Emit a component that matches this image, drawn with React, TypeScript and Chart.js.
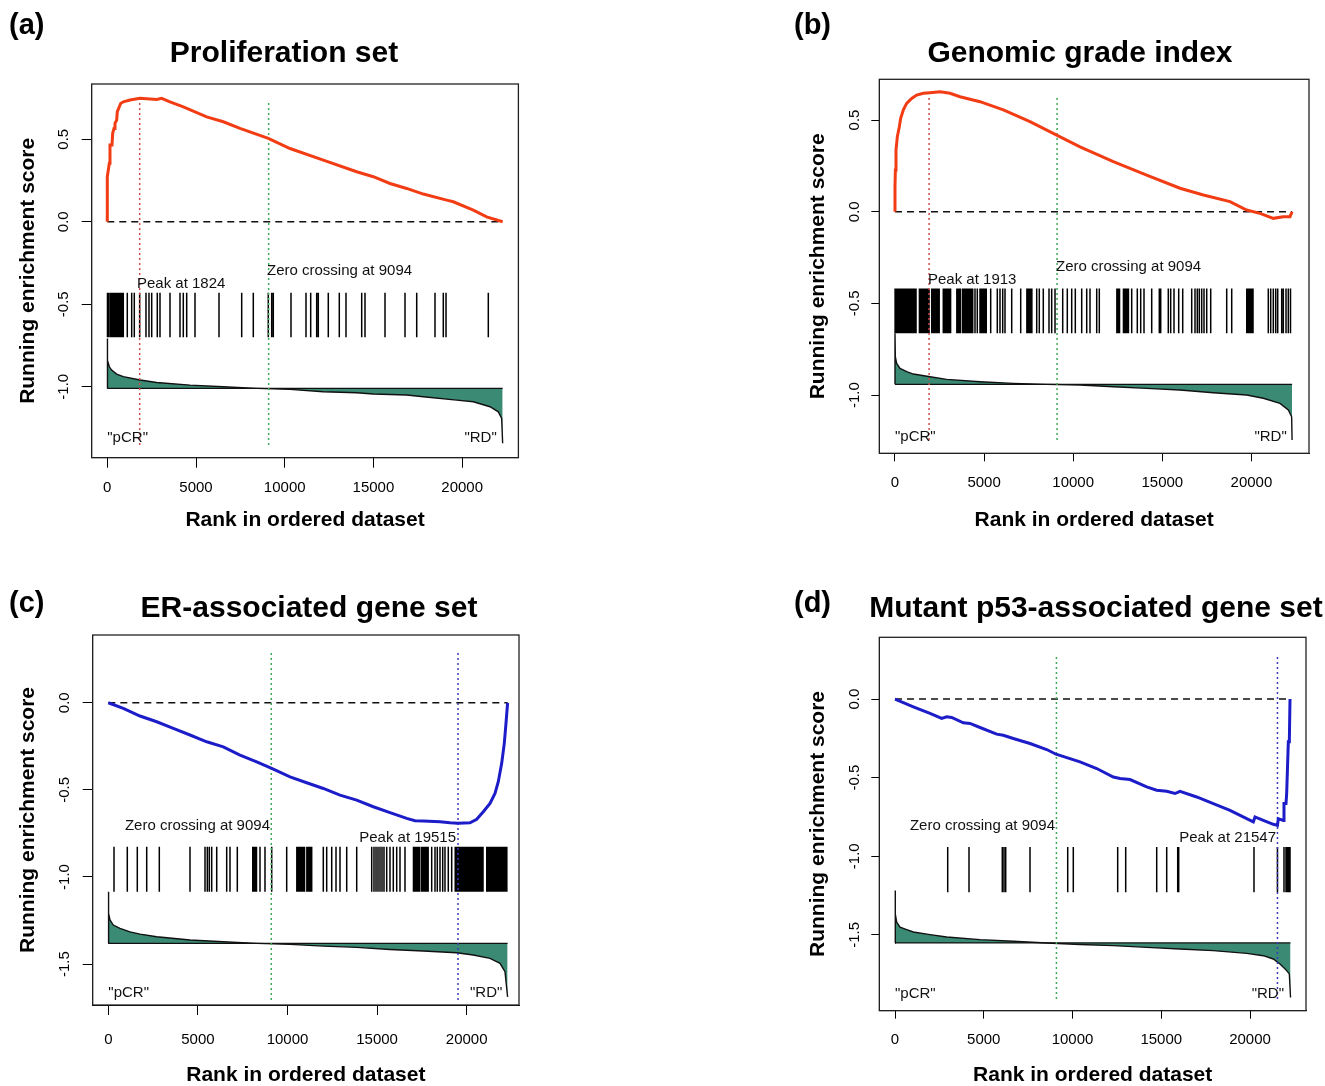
import React, { useEffect, useRef } from "react";
import { Chart, registerables } from "chart.js";

Chart.register(...registerables);

const FONT = "'Liberation Sans', Arial, Helvetica, sans-serif";
const N_GENES = 22283;
const ZERO_CROSS = 9094;
const X_TICKS = [0, 5000, 10000, 15000, 20000];
const X_TITLE = "Rank in ordered dataset";
const Y_TITLE = "Running enrichment score";

// ---------- (a) Proliferation set ----------
const A_TITLE = "Proliferation set";
const A_PEAK = 1824;
const A_Y_TICKS = [-1.0, -0.5, 0.0, 0.5];
const A_ES_X = [0, 0, 115, 152, 265, 302, 378, 434, 528, 565, 678, 753, 903, 1279, 1843, 2782, 3064, 3534, 4285, 5601, 6540, 7480, 9076, 10298, 12176, 14055, 14994, 15934, 16873, 17812, 19128, 19503, 20630, 21382, 22283];
const A_ES_Y = [0, 0.273, 0.354, 0.465, 0.465, 0.536, 0.566, 0.596, 0.616, 0.667, 0.697, 0.717, 0.727, 0.738, 0.748, 0.741, 0.748, 0.727, 0.697, 0.636, 0.606, 0.566, 0.505, 0.444, 0.374, 0.303, 0.273, 0.232, 0.202, 0.168, 0.131, 0.121, 0.071, 0.03, 0];
const A_HITS = [10, 96, 190, 265, 340, 406, 462, 519, 575, 631, 688, 744, 800, 857, 902, 1127, 1375, 1522, 1824, 2181, 2350, 2503, 2818, 2970, 3534, 4098, 4284, 4475, 4943, 6296, 7575, 8229, 9074, 9266, 9356, 10354, 11199, 11464, 11802, 11893, 12456, 13076, 13454, 14339, 14525, 15652, 16780, 17439, 18470, 18938, 19091, 21475];
const A_METRIC_X = [0, 0, 20, 115, 245, 528, 903, 1843, 2782, 4660, 6540, 8418, 10298, 12176, 14055, 14994, 16873, 17812, 19691, 20630, 21570, 22040, 22228, 22283];
const A_METRIC_Y = [-1.01, -0.707, -0.84, -0.879, -0.899, -0.923, -0.939, -0.959, -0.974, -0.99, -1.0, -1.01, -1.016, -1.03, -1.036, -1.044, -1.05, -1.061, -1.081, -1.091, -1.121, -1.152, -1.192, -1.343];

// ---------- (b) Genomic grade index ----------
const B_TITLE = "Genomic grade index";
const B_PEAK = 1913;
const B_Y_TICKS = [-1.0, -0.5, 0.0, 0.5];
const B_ES_X = [0, 0, 20, 56, 131, 243, 318, 468, 655, 936, 1216, 1590, 1964, 2525, 3086, 3648, 4770, 6080, 7576, 9072, 10382, 12252, 14123, 15993, 17302, 18799, 19734, 20483, 21231, 21792, 22166, 22283];
const B_ES_Y = [0, 0.136, 0.227, 0.336, 0.409, 0.463, 0.509, 0.555, 0.591, 0.618, 0.636, 0.646, 0.649, 0.654, 0.646, 0.627, 0.6, 0.555, 0.491, 0.418, 0.354, 0.273, 0.2, 0.128, 0.091, 0.055, 0.009, -0.009, -0.036, -0.027, -0.027, 0];
const B_HITS = [5, 60, 130, 200, 270, 340, 410, 480, 550, 620, 690, 760, 830, 900, 970, 1040, 1110, 1180, 1370, 1440, 1510, 1580, 1650, 1720, 1790, 1860, 1913, 2060, 2130, 2200, 2270, 2340, 2410, 2480, 2710, 2780, 2850, 2920, 2990, 3060, 3120, 3470, 3540, 3610, 3680, 3800, 3870, 3940, 4010, 4080, 4150, 4220, 4290, 4360, 4489, 4618, 4770, 4840, 4910, 4980, 5050, 5120, 5370, 5741, 5892, 6044, 6173, 6549, 7054, 7400, 7470, 7540, 7610, 7680, 7952, 8097, 8322, 8642, 8793, 8979, 9411, 9669, 9916, 10118, 10477, 10758, 10943, 11319, 11465, 12450, 12520, 12600, 12820, 12890, 12960, 13030, 13100, 13283, 13597, 13788, 13973, 14405, 14832, 14910, 15337, 15471, 15657, 15920, 16145, 16650, 16835, 16964, 17077, 17211, 17340, 17492, 17716, 18614, 18895, 19740, 19810, 19880, 19950, 20020, 20090, 20948, 21083, 21229, 21364, 21476, 21700, 21790, 21942, 22071, 22194];
const B_METRIC_X = [0, 0, 20, 93, 281, 655, 1029, 1964, 2899, 4770, 6640, 8511, 10382, 12252, 14123, 15993, 17863, 19734, 20669, 21605, 22071, 22258, 22283];
const B_METRIC_Y = [-0.941, -0.663, -0.791, -0.827, -0.854, -0.872, -0.885, -0.9, -0.914, -0.927, -0.936, -0.941, -0.945, -0.954, -0.963, -0.972, -0.987, -0.999, -1.017, -1.045, -1.081, -1.118, -1.245];

// ---------- (c) ER-associated gene set ----------
const C_TITLE = "ER-associated gene set";
const C_PEAK = 19515;
const C_Y_TICKS = [-1.5, -1.0, -0.5, 0.0];
const C_ES_X = [0, 837, 1769, 2701, 3627, 4559, 5491, 6417, 7349, 8281, 9118, 10140, 11071, 11998, 12930, 13862, 14788, 15720, 16652, 17115, 17578, 18510, 19068, 19515, 20184, 20558, 20926, 21300, 21579, 21763, 21953, 22098, 22193, 22283];
const C_ES_Y = [0, -0.032, -0.076, -0.109, -0.147, -0.185, -0.224, -0.253, -0.3, -0.339, -0.377, -0.425, -0.459, -0.492, -0.53, -0.559, -0.597, -0.631, -0.664, -0.677, -0.679, -0.683, -0.689, -0.692, -0.689, -0.669, -0.626, -0.578, -0.52, -0.453, -0.348, -0.233, -0.118, 0];
const C_HITS = [318, 1060, 1618, 2143, 2846, 4559, 5396, 5525, 5636, 5770, 6049, 6607, 6791, 7199, 8060, 8130, 8200, 8270, 8465, 8744, 9118, 9955, 10520, 10600, 10660, 10740, 10810, 10880, 10950, 11080, 11150, 11220, 11290, 11350, 11998, 12187, 12467, 12707, 12930, 13304, 13862, 14699, 14827, 14939, 15050, 15162, 15274, 15385, 15536, 15720, 15904, 16094, 16278, 16557, 17030, 17100, 17170, 17240, 17310, 17380, 17490, 17560, 17630, 17700, 17770, 17850, 18047, 18231, 18359, 18510, 18661, 18789, 18973, 19163, 19360, 19430, 19500, 19515, 19580, 19650, 19720, 19790, 19860, 19930, 20000, 20070, 20140, 20210, 20280, 20350, 20420, 20490, 20560, 20630, 20700, 20770, 20840, 20910, 21120, 21190, 21260, 21330, 21400, 21470, 21540, 21610, 21680, 21750, 21820, 21890, 21960, 22030, 22100, 22170, 22240];
const C_METRIC_X = [0, 0, 30, 93, 279, 651, 1211, 1769, 2701, 4559, 6417, 8281, 10140, 11998, 13862, 15720, 17578, 19442, 20368, 21300, 21858, 22137, 22283];
const C_METRIC_Y = [-1.381, -1.085, -1.209, -1.247, -1.276, -1.295, -1.315, -1.328, -1.343, -1.362, -1.372, -1.381, -1.387, -1.397, -1.404, -1.416, -1.425, -1.435, -1.448, -1.467, -1.496, -1.544, -1.688];

// ---------- (d) Mutant p53-associated gene set ----------
const D_TITLE = "Mutant p53-associated gene set";
const D_PEAK = 21547;
const D_Y_TICKS = [-1.5, -1.0, -0.5, 0.0];
const D_ES_X = [0, 1033, 1972, 2629, 2911, 3192, 3850, 4225, 4789, 5728, 6101, 6665, 7606, 8546, 9070, 10423, 11363, 12299, 12676, 13239, 14180, 14744, 15307, 15775, 16056, 16997, 17934, 18873, 19814, 20186, 20282, 20750, 21313, 21547, 21597, 21878, 21915, 22028, 22066, 22159, 22216, 22254, 22283];
const D_ES_Y = [0, -0.049, -0.091, -0.123, -0.113, -0.117, -0.151, -0.155, -0.181, -0.223, -0.23, -0.251, -0.283, -0.321, -0.351, -0.4, -0.442, -0.496, -0.506, -0.512, -0.559, -0.58, -0.587, -0.601, -0.587, -0.623, -0.665, -0.708, -0.761, -0.782, -0.75, -0.772, -0.797, -0.804, -0.761, -0.772, -0.665, -0.665, -0.601, -0.272, -0.272, 0, 0];
const D_HITS = [2969, 4169, 6045, 6141, 6237, 7606, 9730, 10045, 12546, 12997, 14744, 15307, 15927, 15983, 20225, 21547, 21915, 22028, 22101, 22180, 22254];
const D_METRIC_X = [0, 0, 30, 94, 282, 657, 1033, 1972, 2911, 4789, 6665, 8546, 10423, 12299, 14180, 16056, 17934, 19814, 20750, 21313, 21690, 22066, 22216, 22283];
const D_METRIC_Y = [-1.552, -1.218, -1.367, -1.42, -1.452, -1.467, -1.482, -1.499, -1.514, -1.531, -1.541, -1.552, -1.562, -1.569, -1.58, -1.59, -1.601, -1.618, -1.633, -1.654, -1.686, -1.728, -1.749, -1.899];

// ---------- styling / layout (not data) ----------
const RED = "#F23C14";
const BLUE = "#1C1CC8";
const PEAK_RED = "#D24B4B";
const PEAK_BLUE = "#3A3AB8";
const ZERO_GREEN = "#3DAA5A";
const TEAL = "#3B8A74";

type Ann = { text: string; x: number; y: number; align: "left" | "right" };

interface PanelCfg {
  left: number; top: number; w: number; h: number;
  pad: { left: number; top: number; right: number; bottom: number };
  yW: number; xH: number;
  xMin: number; xMax: number; yMin: number; yMax: number;
  yTicks: number[];
  esX: number[]; esY: number[]; esColor: string;
  hits: number[]; hitTop: number; hitBot: number;
  metX: number[]; metY: number[]; base: number;
  peak: number; peakColor: string; vTop: number; vBot: number;
  anns: Ann[];
  tickLen: number; yTickPad: number; xTickPad: number;
}

const PANELS: PanelCfg[] = [
  {
    left: 0, top: 0, w: 662, h: 543,
    pad: { left: 17.5, top: 84, right: 143.6, bottom: 12.5 }, yW: 74.2, xH: 72.8,
    xMin: -879, xMax: 23171, yMin: -1.43, yMax: 0.835, yTicks: A_Y_TICKS,
    esX: A_ES_X, esY: A_ES_Y, esColor: RED,
    hits: A_HITS, hitTop: -0.43, hitBot: -0.7,
    metX: A_METRIC_X, metY: A_METRIC_Y, base: -1.01,
    peak: A_PEAK, peakColor: PEAK_RED, vTop: 0.738, vBot: -1.353,
    anns: [
      { text: `Peak at ${A_PEAK}`, x: 1674, y: -0.378, align: "left" },
      { text: `Zero crossing at ${ZERO_CROSS}`, x: 9001, y: -0.299, align: "left" },
      { text: '"pCR"', x: 0, y: -1.311, align: "left" },
      { text: '"RD"', x: 21948, y: -1.311, align: "right" },
    ],
    tickLen: 10, yTickPad: 5, xTickPad: 11,
  },
  {
    left: 662, top: 0, w: 663, h: 543,
    pad: { left: 145.5, top: 79.3, right: 16, bottom: 12.5 }, yW: 71.8, xH: 77.2,
    xMin: -881, xMax: 23232, yMin: -1.317, yMax: 0.722, yTicks: B_Y_TICKS,
    esX: B_ES_X, esY: B_ES_Y, esColor: RED,
    hits: B_HITS, hitTop: -0.418, hitBot: -0.663,
    metX: B_METRIC_X, metY: B_METRIC_Y, base: -0.941,
    peak: B_PEAK, peakColor: PEAK_RED, vTop: 0.636, vBot: -1.245,
    anns: [
      { text: `Peak at ${B_PEAK}`, x: 1852, y: -0.372, align: "left" },
      { text: `Zero crossing at ${ZERO_CROSS}`, x: 9035, y: -0.302, align: "left" },
      { text: '"pCR"', x: 0, y: -1.227, align: "left" },
      { text: '"RD"', x: 21981, y: -1.227, align: "right" },
    ],
    tickLen: 8, yTickPad: 3.4, xTickPad: 12.5,
  },
  {
    left: 0, top: 543, w: 662, h: 543,
    pad: { left: 17.5, top: 92, right: 143, bottom: 0.5 }, yW: 75.2, xH: 80.5,
    xMin: -871, xMax: 22919, yMin: -1.735, yMax: 0.389, yTicks: C_Y_TICKS,
    esX: C_ES_X, esY: C_ES_Y, esColor: BLUE,
    hits: C_HITS, hitTop: -0.827, hitBot: -1.085,
    metX: C_METRIC_X, metY: C_METRIC_Y, base: -1.381,
    peak: C_PEAK, peakColor: PEAK_BLUE, vTop: 0.293, vBot: -1.707,
    anns: [
      { text: `Zero crossing at ${ZERO_CROSS}`, x: 9023, y: -0.708, align: "right" },
      { text: `Peak at ${C_PEAK}`, x: 19403, y: -0.777, align: "right" },
      { text: '"pCR"', x: 0, y: -1.666, align: "left" },
      { text: '"RD"', x: 21987, y: -1.666, align: "right" },
    ],
    tickLen: 10, yTickPad: 5, xTickPad: 16,
  },
  {
    left: 662, top: 543, w: 663, h: 543,
    pad: { left: 145.5, top: 94.3, right: 19, bottom: 0.5 }, yW: 71.8, xH: 74.8,
    xMin: -885, xMax: 23155, yMin: -1.983, yMax: 0.393, yTicks: D_Y_TICKS,
    esX: D_ES_X, esY: D_ES_Y, esColor: BLUE,
    hits: D_HITS, hitTop: -0.942, hitBot: -1.229,
    metX: D_METRIC_X, metY: D_METRIC_Y, base: -1.552,
    peak: D_PEAK, peakColor: PEAK_BLUE, vTop: 0.281, vBot: -1.909,
    anns: [
      { text: `Zero crossing at ${ZERO_CROSS}`, x: 9014, y: -0.81, align: "right" },
      { text: `Peak at ${D_PEAK}`, x: 21465, y: -0.886, align: "right" },
      { text: '"pCR"', x: 0, y: -1.875, align: "left" },
      { text: '"RD"', x: 21915, y: -1.875, align: "right" },
    ],
    tickLen: 8, yTickPad: 3.4, xTickPad: 12.5,
  },
];

const HEADINGS = [
  { text: "(a)", x: 9, base: 35, size: 29, center: false },
  { text: A_TITLE, x: 284, base: 62, size: 30, center: true },
  { text: "(b)", x: 794, base: 35, size: 29, center: false },
  { text: B_TITLE, x: 1080, base: 62, size: 30, center: true },
  { text: "(c)", x: 9, base: 613, size: 29, center: false },
  { text: C_TITLE, x: 309, base: 617, size: 30, center: true },
  { text: "(d)", x: 794, base: 613, size: 29, center: false },
  { text: D_TITLE, x: 1096, base: 617, size: 30, center: true },
];

function zip(xs: number[], ys: number[]) {
  return xs.map((x, i) => ({ x, y: ys[i] }));
}

function Panel({ p }: { p: PanelCfg }) {
  const ref = useRef<HTMLCanvasElement>(null);
  useEffect(() => {
    const hitData: any[] = [];
    p.hits.forEach((h) => {
      hitData.push({ x: h, y: p.hitTop }, { x: h, y: p.hitBot }, { x: h, y: null });
    });
    const decor = {
      id: "decor",
      afterDatasetsDraw(chart: any) {
        const { ctx, chartArea: a, scales } = chart;
        ctx.save();
        ctx.font = `15px ${FONT}`;
        ctx.fillStyle = "#111";
        ctx.textBaseline = "middle";
        p.anns.forEach((an) => {
          ctx.textAlign = an.align;
          ctx.fillText(an.text, scales.x.getPixelForValue(an.x), scales.y.getPixelForValue(an.y));
        });
        ctx.strokeStyle = "#222";
        ctx.lineWidth = 1.3;
        ctx.strokeRect(a.left, a.top, a.right - a.left, a.bottom - a.top);
        ctx.restore();
      },
    };
    const tickFont = { family: FONT, size: 15 };
    const titleFont = { family: FONT, size: 21, weight: "bold" as const, lineHeight: 1 };
    const chart = new Chart(ref.current as HTMLCanvasElement, {
      type: "line",
      data: {
        datasets: [
          { data: zip(p.esX, p.esY), borderColor: p.esColor, borderWidth: 3, pointRadius: 0, tension: 0 },
          { data: [{ x: p.peak, y: p.vBot }, { x: p.peak, y: p.vTop }], borderColor: p.peakColor, borderWidth: 1.5, borderDash: [2, 3], pointRadius: 0 },
          { data: [{ x: ZERO_CROSS, y: p.vBot }, { x: ZERO_CROSS, y: p.vTop }], borderColor: ZERO_GREEN, borderWidth: 1.5, borderDash: [2, 3], pointRadius: 0 },
          { data: [{ x: 0, y: 0 }, { x: N_GENES, y: 0 }], borderColor: "#111", borderWidth: 1.5, borderDash: [7, 5], pointRadius: 0 },
          { data: hitData, borderColor: "#000", borderWidth: 1.5, pointRadius: 0, spanGaps: false, borderCapStyle: "butt" },
          { data: [{ x: 0, y: p.base }, { x: N_GENES, y: p.base }], borderColor: "#111", borderWidth: 1.2, pointRadius: 0 },
          { data: zip(p.metX, p.metY), borderColor: "#111", borderWidth: 1.4, pointRadius: 0, fill: { value: p.base }, backgroundColor: TEAL },
        ] as any,
      },
      options: {
        responsive: false,
        animation: false,
        devicePixelRatio: 1,
        events: [],
        layout: { padding: p.pad },
        plugins: { legend: { display: false }, tooltip: { enabled: false }, title: { display: false } },
        scales: {
          x: {
            type: "linear",
            min: p.xMin,
            max: p.xMax,
            afterBuildTicks: (s: any) => { s.ticks = X_TICKS.map((v) => ({ value: v })); },
            afterFit: (s: any) => { s.height = p.xH; },
            ticks: { callback: (v: any) => String(v), font: tickFont, color: "#000", padding: p.xTickPad, minRotation: 0, maxRotation: 0, autoSkip: false },
            grid: { drawOnChartArea: false, drawTicks: true, tickLength: p.tickLen, color: "#000", lineWidth: 1 },
            border: { display: true, color: "#000", width: 1 },
            title: { display: true, text: X_TITLE, font: titleFont, color: "#000", padding: 0 },
          },
          y: {
            type: "linear",
            min: p.yMin,
            max: p.yMax,
            afterBuildTicks: (s: any) => { s.ticks = p.yTicks.map((v) => ({ value: v })); },
            afterFit: (s: any) => { s.width = p.yW; },
            ticks: { callback: (v: any) => Number(v).toFixed(1), font: tickFont, color: "#000", padding: p.yTickPad, minRotation: 90, maxRotation: 90, crossAlign: "center", autoSkip: false },
            grid: { drawOnChartArea: false, drawTicks: true, tickLength: p.tickLen, color: "#000", lineWidth: 1 },
            border: { display: true, color: "#000", width: 1 },
            title: { display: true, text: Y_TITLE, font: titleFont, color: "#000", padding: 0 },
          },
        },
      } as any,
      plugins: [decor],
    });
    return () => chart.destroy();
  }, [p]);
  return (
    <canvas
      ref={ref}
      width={p.w}
      height={p.h}
      style={{ position: "absolute", left: p.left, top: p.top, width: p.w, height: p.h }}
    />
  );
}

export default function App() {
  return (
    <div style={{ position: "absolute", left: 0, top: 0, width: 1325, height: 1086, background: "#fff", overflow: "hidden" }}>
      {PANELS.map((p, i) => (
        <Panel key={i} p={p} />
      ))}
      {HEADINGS.map((h, i) => (
        <div
          key={"h" + i}
          style={{
            position: "absolute",
            left: h.x,
            top: h.base - 0.8465 * h.size,
            fontFamily: FONT,
            fontWeight: "bold",
            fontSize: h.size,
            lineHeight: `${h.size}px`,
            whiteSpace: "nowrap",
            color: "#000",
            transform: h.center ? "translateX(-50%)" : undefined,
          }}
        >
          {h.text}
        </div>
      ))}
    </div>
  );
}
